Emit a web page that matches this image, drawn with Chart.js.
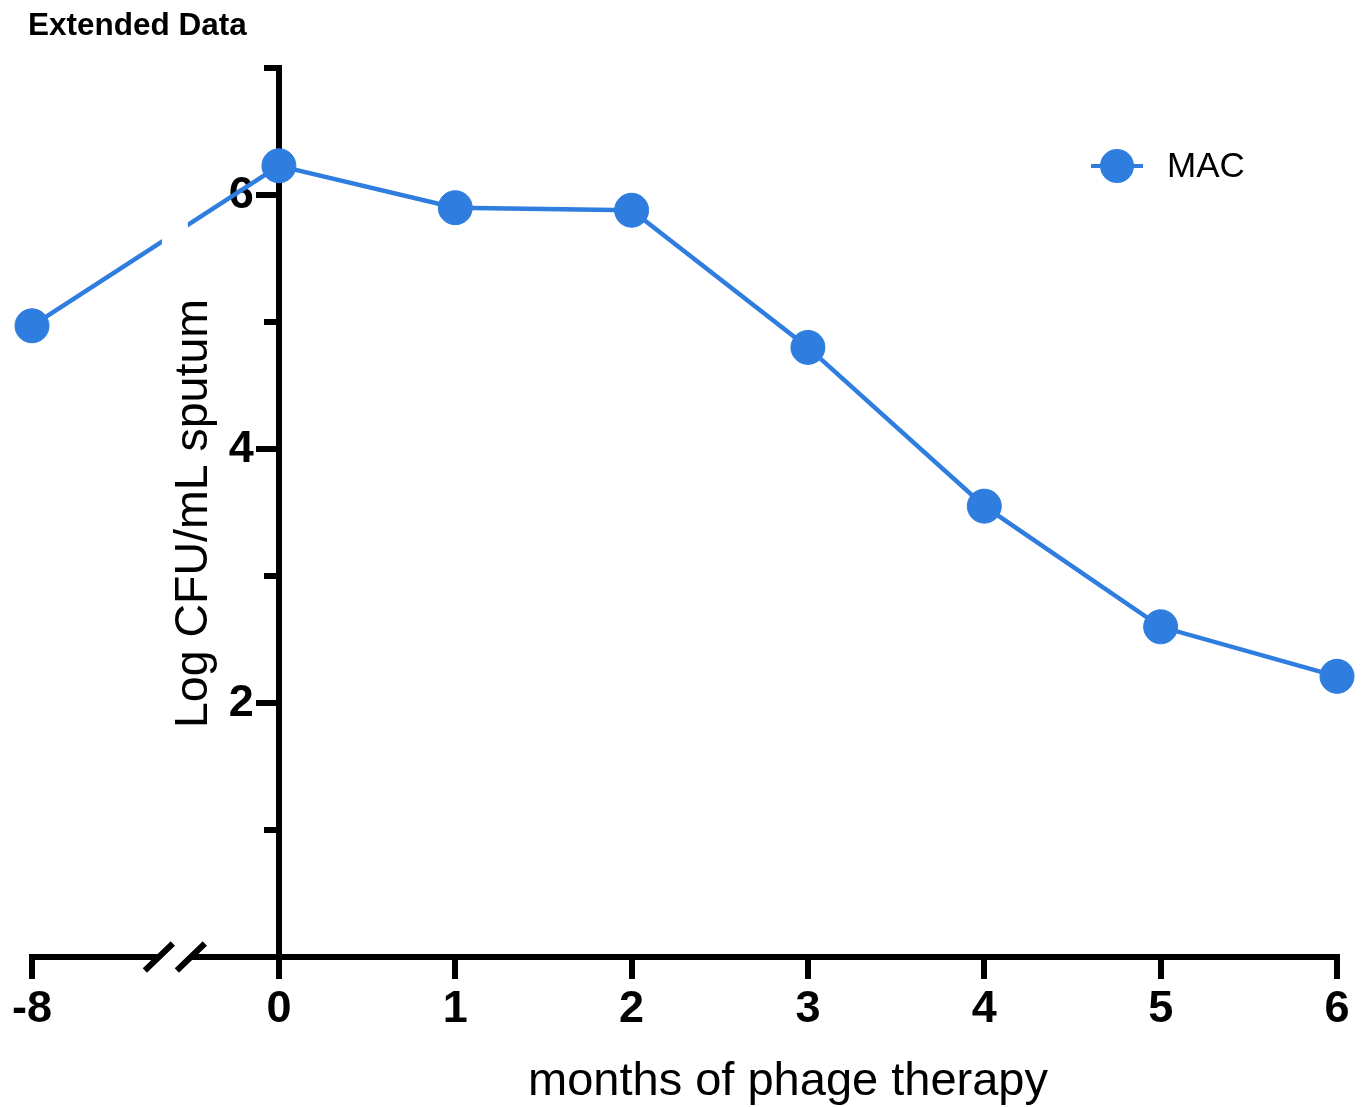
<!DOCTYPE html>
<html>
<head>
<meta charset="utf-8">
<script src="https://cdn.jsdelivr.net/npm/chart.js@4.4.1/dist/chart.umd.min.js"></script>
<style>
  html, body { margin: 0; padding: 0; background: #fff; }
  #wrap { position: relative; width: 1368px; height: 1107px; }
</style>
</head>
<body>
<div id="wrap"><canvas id="myChart" width="1368" height="1107"></canvas></div>
<script>
// months relative to start of phage therapy (-8 = the pre-treatment sample)
const months = [-8, 0, 1, 2, 3, 4, 5, 6];
const macLog = [4.97, 6.23, 5.90, 5.88, 4.80, 3.55, 2.60, 2.21];
const yLabelled = [2, 4, 6];
const yMinor = [1, 3, 5, 7];
const seriesName = 'MAC';
const figLabel = 'Extended Data';
const yTitle = 'Log CFU/mL sputum';
const xTitle = 'months of phage therapy';

const blue = '#2E7DDF';
const FONT = '"Liberation Sans", Arial, Helvetica, sans-serif';

// axis is broken between -8 and 0, the pre-treatment stretch is squeezed
const squeeze = 0.175;
function xPos(m) { return m < 0 ? m * squeeze : m; }
const breakAt = -0.59; // where the // marks sit, in axis units

const extras = {
  id: 'extras',
  beforeDatasetsDraw(chart) {
    // y labels sit left of the tick marks (chart.js puts them on the axis line
    // when the axis is placed at x = 0)
    const ctx = chart.ctx, ys = chart.scales.y;
    const ax = chart.scales.x.getPixelForValue(0);
    ctx.save();
    ctx.fillStyle = '#000';
    ctx.font = 'bold 45px ' + FONT;
    ctx.textAlign = 'right';
    ctx.textBaseline = 'middle';
    yLabelled.forEach(v => ctx.fillText(String(v), ax - 25, ys.getPixelForValue(v) + 1));
    ctx.restore();
  },
  afterDatasetsDraw(chart) {
    const ctx = chart.ctx, area = chart.chartArea;
    const bx = chart.scales.x.getPixelForValue(breakAt);
    ctx.save();
    ctx.fillStyle = '#fff';
    ctx.fillRect(bx - 13, area.top, 26, area.bottom - area.top - 8);
    ctx.fillRect(bx - 16, area.bottom - 5, 32, 10);
    ctx.strokeStyle = '#000';
    ctx.lineWidth = 6;
    [-16, 16].forEach(d => {
      ctx.beginPath();
      ctx.moveTo(bx + d - 14, area.bottom + 13.5);
      ctx.lineTo(bx + d + 14, area.bottom - 13.5);
      ctx.stroke();
    });
    ctx.restore();
  },
  afterDraw(chart) {
    const ctx = chart.ctx, area = chart.chartArea;
    ctx.save();
    ctx.fillStyle = '#000';
    ctx.textBaseline = 'alphabetic';

    ctx.font = 'bold 31.5px ' + FONT;
    ctx.textAlign = 'left';
    ctx.fillText(figLabel, 28, 35);

    ctx.font = '47px ' + FONT;
    ctx.textAlign = 'center';
    ctx.fillText(xTitle, 788, 1095);

    ctx.save();
    ctx.translate(207, (area.top + area.bottom) / 2 + 1);
    ctx.rotate(-Math.PI / 2);
    ctx.font = '46.5px ' + FONT;
    ctx.fillText(yTitle, 0, 0);
    ctx.restore();

    // legend
    const ds = chart.data.datasets[0];
    ctx.strokeStyle = ds.borderColor;
    ctx.lineWidth = 4;
    ctx.beginPath();
    ctx.moveTo(1091, 166);
    ctx.lineTo(1143, 166);
    ctx.stroke();
    ctx.fillStyle = ds.backgroundColor;
    ctx.beginPath();
    ctx.arc(1117, 166, 17, 0, Math.PI * 2);
    ctx.fill();
    ctx.fillStyle = '#000';
    ctx.font = '35px ' + FONT;
    ctx.textAlign = 'left';
    ctx.fillText(ds.label, 1167, 177);
    ctx.restore();
  }
};

const tickFont = { family: FONT, size: 45, weight: 'bold' };

new Chart(document.getElementById('myChart'), {
  type: 'line',
  data: {
    datasets: [{
      label: seriesName,
      data: months.map((m, i) => ({ x: xPos(m), y: macLog[i] })),
      borderColor: blue,
      backgroundColor: blue,
      borderWidth: 4.5,
      pointRadius: 17,
      pointHoverRadius: 17,
      pointBackgroundColor: blue,
      pointBorderColor: blue,
      pointBorderWidth: 1,
      tension: 0,
      clip: false
    }]
  },
  options: {
    responsive: false,
    animation: false,
    devicePixelRatio: 1,
    layout: { padding: { left: 32, right: 31, top: 68, bottom: 0 } },
    plugins: { legend: { display: false }, tooltip: { enabled: false }, title: { display: false } },
    scales: {
      x: {
        type: 'linear',
        position: 'bottom',
        min: xPos(months[0]),
        max: months[months.length - 1],
        afterBuildTicks: s => { s.ticks = months.map(m => ({ value: xPos(m) })); },
        afterFit: s => { s.height = 150; },
        ticks: {
          callback: (v, i) => String(months[i]),
          font: tickFont, color: '#000', padding: 4,
          maxRotation: 0, autoSkip: false
        },
        grid: { drawOnChartArea: false, drawTicks: true, tickLength: 22, lineWidth: 6, color: '#000' },
        border: { display: true, width: 6, color: '#000' }
      },
      y: {
        type: 'linear',
        position: { x: 0 },
        min: 0,
        max: 7,
        afterBuildTicks: s => { s.ticks = yLabelled.map(v => ({ value: v })); },
        ticks: { display: false },
        grid: { drawOnChartArea: false, drawTicks: true, tickLength: 20, lineWidth: 6, color: '#000' },
        border: { display: true, width: 6, color: '#000' }
      },
      yMinor: {
        type: 'linear',
        axis: 'y',
        position: { x: 0 },
        min: 0,
        max: 7,
        afterBuildTicks: s => { s.ticks = yMinor.map(v => ({ value: v })); },
        ticks: { display: false },
        grid: { drawOnChartArea: false, drawTicks: true, tickLength: 12, lineWidth: 6, color: '#000' },
        border: { display: true, width: 6, color: '#000' }
      }
    }
  },
  plugins: [extras]
});
</script>
</body>
</html>
